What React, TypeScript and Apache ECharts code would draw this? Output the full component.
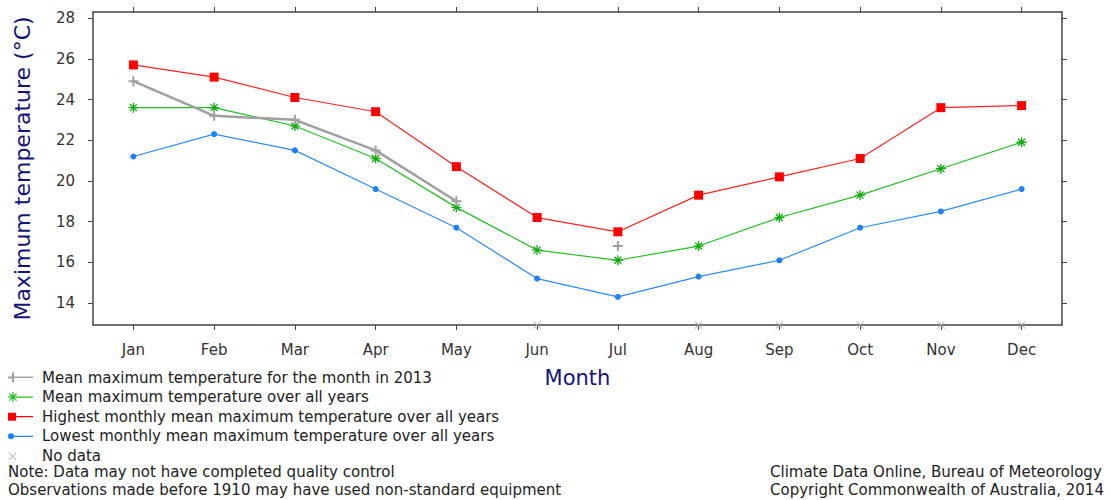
import React, { useEffect, useRef } from "react";
import * as echarts from "echarts";

const months = ["Jan", "Feb", "Mar", "Apr", "May", "Jun", "Jul", "Aug", "Sep", "Oct", "Nov", "Dec"];
const mean2013: (number | null)[] = [24.9, 23.2, 23.0, 21.5, 19.0, null, 16.8, null, null, null, null, null];
const meanAll = [23.6, 23.6, 22.7, 21.1, 18.7, 16.6, 16.1, 16.8, 18.2, 19.3, 20.6, 21.9];
const highest = [25.7, 25.1, 24.1, 23.4, 20.7, 18.2, 17.5, 19.3, 20.2, 21.1, 23.6, 23.7];
const lowest = [21.2, 22.3, 21.5, 19.6, 17.7, 15.2, 14.3, 15.3, 16.1, 17.7, 18.5, 19.6];
const noDataMonths = ["Jun", "Aug", "Sep", "Oct", "Nov", "Dec"];
const yTicks = [14, 16, 18, 20, 22, 24, 26, 28];
const yMin = 12.92;
const yMax = 28.3;

const seriesNames = [
  "Mean maximum temperature for the month in 2013",
  "Mean maximum temperature over all years",
  "Highest monthly mean maximum temperature over all years",
  "Lowest monthly mean maximum temperature over all years",
  "No data",
];

const FONT = "DejaVu Sans";
const AXIS_COLOR = "#444";
const TITLE_COLOR = "#14147a";
const GRAY = "#a0a0a0";
const GREEN = "#22c022";
const RED = "#ff0000";
const BLUE = "#1a80ff";
const NODATA = "#aaaaaa";

// tiny anchors so every legend icon has the same 25x10 bounding box
const ANCHORS = " M0,0L0.05,0L0,0.05Z M25,10L24.95,10L25,9.95Z";
const legendIcons = [
  "path://M4,0H6V4H25V5.6H6V10H4V6H0V4H4Z" + ANCHORS,
  "path://M4.4,0H5.6V4.4H25V5.6H5.6V10H4.4V5.6H0V4.4H4.4Z M1,1.8L1.8,1L9,8.2L8.2,9Z M8.2,1L9,1.8L1.8,9L1,8.2Z" + ANCHORS,
  "path://M0,1H8V9H0Z M8,4.4H25V5.6H8Z" + ANCHORS,
  "path://M0,5A3,3 0 1,1 6,5A3,3 0 1,1 0,5Z M5,4.4H25V5.6H5Z" + ANCHORS,
  "path://M0.5,2.2L1.2,1.5L4.5,4.8L7.8,1.5L8.5,2.2L5.2,5.5L8.5,8.8L7.8,9.5L4.5,6.2L1.2,9.5L0.5,8.8L3.8,5.5Z" + ANCHORS,
];

export default function App() {
  const ref = useRef<HTMLDivElement>(null);
  useEffect(() => {
    const chart = echarts.init(ref.current!, null, { renderer: "svg" });
    const plusPath = "path://M4,0H6V4H10V6H6V10H4V6H0V4H4Z";
    const starPath = "path://M5,0L5,10M0,5L10,5M1.5,1.5L8.5,8.5M8.5,1.5L1.5,8.5";
    const xPath = "path://M0,0.8L0.8,0L5,4.2L9.2,0L10,0.8L5.8,5L10,9.2L9.2,10L5,5.8L0.8,10L0,9.2L4.2,5Z";
    chart.setOption({
      animation: false,
      textStyle: { fontFamily: FONT },
      grid: { left: 93, top: 12, right: 49, bottom: 175, containLabel: false },
      legend: {
        orient: "vertical",
        left: 8,
        top: 370,
        padding: 0,
        itemWidth: 25,
        itemHeight: 10,
        itemGap: 4.6,
        data: seriesNames.map((n, i) => ({
          name: n,
          icon: legendIcons[i],
          itemStyle: { borderWidth: 0 },
        })),
        textStyle: { fontFamily: FONT, fontSize: 15, color: "#222", lineHeight: 15, padding: [0, 0, 0, 4] },
      },
      xAxis: [
        {
          type: "category",
          data: months,
          boundaryGap: true,
          position: "bottom",
          name: "Month",
          nameLocation: "middle",
          nameGap: 42,
          nameTextStyle: { fontFamily: FONT, fontSize: 21, color: TITLE_COLOR },
          axisLine: { show: true, lineStyle: { color: AXIS_COLOR, width: 1.5 } },
          axisTick: { show: true, alignWithLabel: true, length: 5, lineStyle: { color: AXIS_COLOR } },
          axisLabel: { fontFamily: FONT, fontSize: 15, color: "#333", margin: 17 },
          splitLine: { show: false },
        },
        {
          type: "category",
          data: months,
          boundaryGap: true,
          position: "top",
          axisLine: { show: true, lineStyle: { color: AXIS_COLOR, width: 1.5 } },
          axisTick: { show: true, alignWithLabel: true, length: 5, lineStyle: { color: AXIS_COLOR } },
          axisLabel: { show: false },
          splitLine: { show: false },
        },
      ],
      yAxis: [
        {
          type: "value",
          min: yMin,
          max: yMax,
          position: "left",
          name: "Maximum temperature (°C)",
          nameLocation: "middle",
          nameGap: 60,
          nameTextStyle: { fontFamily: FONT, fontSize: 22, color: TITLE_COLOR },
          axisLine: { show: true, lineStyle: { color: AXIS_COLOR, width: 1.5 } },
          axisTick: { show: true, length: 5, customValues: yTicks, lineStyle: { color: AXIS_COLOR } },
          axisLabel: { fontFamily: FONT, fontSize: 15, color: "#333", margin: 18, customValues: yTicks },
          splitLine: { show: false },
        },
        {
          type: "value",
          min: yMin,
          max: yMax,
          position: "right",
          axisLine: { show: true, lineStyle: { color: AXIS_COLOR, width: 1.5 } },
          axisTick: { show: true, length: 5, customValues: yTicks, lineStyle: { color: AXIS_COLOR } },
          axisLabel: { show: false, customValues: yTicks },
          splitLine: { show: false },
        },
      ],
      series: [
        {
          name: seriesNames[0],
          type: "line",
          data: mean2013,
          connectNulls: false,
          symbol: plusPath,
          symbolSize: 10,
          lineStyle: { color: GRAY, width: 2.5 },
          itemStyle: { color: GRAY },
          z: 5,
        },
        {
          name: seriesNames[1],
          type: "line",
          data: meanAll,
          symbol: starPath,
          symbolSize: 10,
          lineStyle: { color: GREEN, width: 1.2 },
          itemStyle: { color: GREEN, borderColor: "#11aa11", borderWidth: 1.3 },
          z: 4,
        },
        {
          name: seriesNames[2],
          type: "line",
          data: highest,
          symbol: "rect",
          symbolSize: 9,
          lineStyle: { color: "#ff2020", width: 1.2 },
          itemStyle: { color: RED },
          z: 3,
        },
        {
          name: seriesNames[3],
          type: "line",
          data: lowest,
          symbol: "circle",
          symbolSize: 6,
          lineStyle: { color: "#2a8cff", width: 1.2 },
          itemStyle: { color: BLUE },
          z: 3,
        },
        {
          name: seriesNames[4],
          type: "scatter",
          data: noDataMonths.map((m) => [m, yMin]),
          symbol: xPath,
          symbolSize: 8,
          itemStyle: { color: NODATA },
          z: 6,
        },
      ],
      graphic: [
        {
          type: "text",
          left: 8,
          top: 463,
          style: {
            text: "Note: Data may not have completed quality control\nObservations made before 1910 may have used non-standard equipment",
            fontFamily: FONT,
            fontSize: 15,
            lineHeight: 18,
            fill: "#222",
          },
        },
        {
          type: "text",
          left: 770,
          top: 463,
          style: {
            text: "Climate Data Online, Bureau of Meteorology\nCopyright Commonwealth of Australia, 2014",
            fontFamily: FONT,
            fontSize: 15,
            lineHeight: 18,
            fill: "#222",
          },
        },
      ],
    });
    return () => chart.dispose();
  }, []);
  return <div ref={ref} style={{ width: 1111, height: 500, position: "absolute", left: 0, top: 0 }} />;
}
